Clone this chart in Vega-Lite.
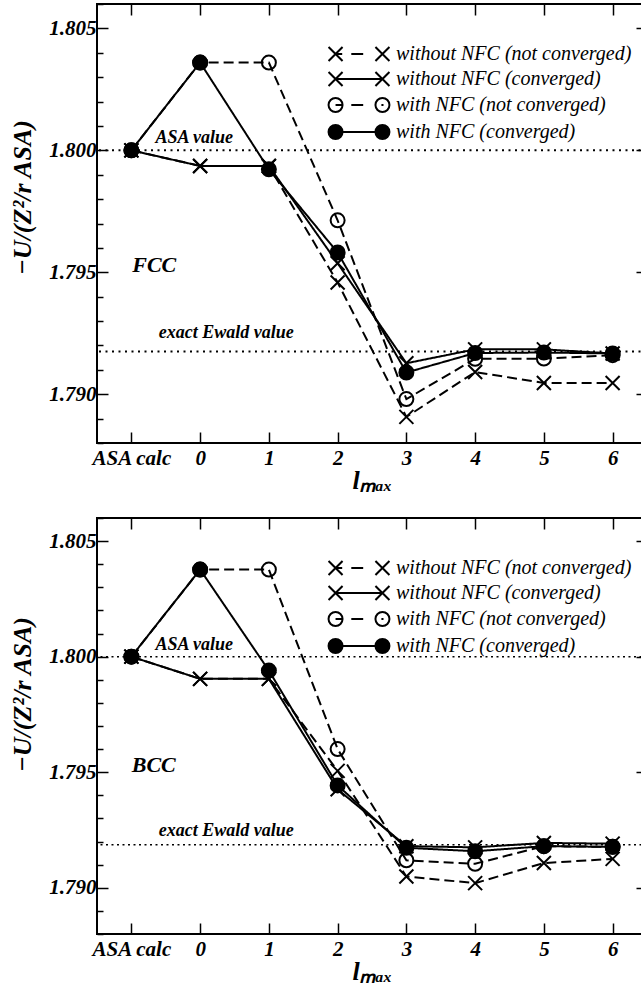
{
  "$schema": "https://vega.github.io/schema/vega-lite/v6.json",
  "padding": {"left": 8, "top": 2, "right": 0, "bottom": 0},
  "background": "white",
  "config": {
    "view": {"stroke": "black", "strokeWidth": 2},
    "font": "Liberation Serif",
    "axis": {
      "domain": false, "grid": false, "ticks": true,
      "tickColor": "black", "tickWidth": 1.5,
      "labelColor": "black", "labelFont": "Liberation Serif", "labelFontSize": 21,
      "labelFontStyle": "italic", "labelFontWeight": "bold",
      "labelOverlap": false, "labelFlush": false,
      "titleColor": "black", "titleFont": "Liberation Serif", "titleFontSize": 26,
      "titleFontStyle": "italic", "titleFontWeight": "bold"
    },
    "legend": {
      "title": null, "orient": "none", "legendX": 252, "legendY": 40, "padding": 0,
      "labelFont": "Liberation Serif", "labelFontSize": 20, "labelFontStyle": "italic", "labelFontWeight": "normal",
      "labelColor": "black", "labelLimit": 400, "labelOffset": 27,
      "symbolSize": 196, "symbolStrokeWidth": 2, "symbolOpacity": 1, "rowPadding": 3
    },
    "text": {"font": "Liberation Serif", "fontStyle": "italic", "fontWeight": "bold", "color": "black"}
  },
  "datasets": {
    "fcc": [
      {"l": -1, "u": 1.8, "s": "without NFC (not converged)"},
      {"l": 0, "u": 1.79936, "s": "without NFC (not converged)"},
      {"l": 1, "u": 1.79936, "s": "without NFC (not converged)"},
      {"l": 2, "u": 1.79458, "s": "without NFC (not converged)"},
      {"l": 3, "u": 1.78907, "s": "without NFC (not converged)"},
      {"l": 4, "u": 1.79091, "s": "without NFC (not converged)"},
      {"l": 5, "u": 1.79046, "s": "without NFC (not converged)"},
      {"l": 6, "u": 1.79046, "s": "without NFC (not converged)"},
      {"l": -1, "u": 1.8, "s": "without NFC (converged)"},
      {"l": 0, "u": 1.79936, "s": "without NFC (converged)"},
      {"l": 1, "u": 1.79936, "s": "without NFC (converged)"},
      {"l": 2, "u": 1.79537, "s": "without NFC (converged)"},
      {"l": 3, "u": 1.79127, "s": "without NFC (converged)"},
      {"l": 4, "u": 1.79184, "s": "without NFC (converged)"},
      {"l": 5, "u": 1.79184, "s": "without NFC (converged)"},
      {"l": 6, "u": 1.79167, "s": "without NFC (converged)"},
      {"l": -1, "u": 1.8, "s": "with NFC (not converged)"},
      {"l": 0, "u": 1.8036, "s": "with NFC (not converged)"},
      {"l": 1, "u": 1.8036, "s": "with NFC (not converged)"},
      {"l": 2, "u": 1.79713, "s": "with NFC (not converged)"},
      {"l": 3, "u": 1.7898, "s": "with NFC (not converged)"},
      {"l": 4, "u": 1.79145, "s": "with NFC (not converged)"},
      {"l": 5, "u": 1.79146, "s": "with NFC (not converged)"},
      {"l": 6, "u": 1.7916, "s": "with NFC (not converged)"},
      {"l": -1, "u": 1.8, "s": "with NFC (converged)"},
      {"l": 0, "u": 1.8036, "s": "with NFC (converged)"},
      {"l": 1, "u": 1.79922, "s": "with NFC (converged)"},
      {"l": 2, "u": 1.79581, "s": "with NFC (converged)"},
      {"l": 3, "u": 1.79089, "s": "with NFC (converged)"},
      {"l": 4, "u": 1.79169, "s": "with NFC (converged)"},
      {"l": 5, "u": 1.79171, "s": "with NFC (converged)"},
      {"l": 6, "u": 1.79167, "s": "with NFC (converged)"}
    ],
    "bcc": [
      {"l": -1, "u": 1.8, "s": "without NFC (not converged)"},
      {"l": 0, "u": 1.79904, "s": "without NFC (not converged)"},
      {"l": 1, "u": 1.79904, "s": "without NFC (not converged)"},
      {"l": 2, "u": 1.79506, "s": "without NFC (not converged)"},
      {"l": 3, "u": 1.79049, "s": "without NFC (not converged)"},
      {"l": 4, "u": 1.7902, "s": "without NFC (not converged)"},
      {"l": 5, "u": 1.79107, "s": "without NFC (not converged)"},
      {"l": 6, "u": 1.79125, "s": "without NFC (not converged)"},
      {"l": -1, "u": 1.8, "s": "without NFC (converged)"},
      {"l": 0, "u": 1.79904, "s": "without NFC (converged)"},
      {"l": 1, "u": 1.79904, "s": "without NFC (converged)"},
      {"l": 2, "u": 1.79426, "s": "without NFC (converged)"},
      {"l": 3, "u": 1.7918, "s": "without NFC (converged)"},
      {"l": 4, "u": 1.79175, "s": "without NFC (converged)"},
      {"l": 5, "u": 1.79194, "s": "without NFC (converged)"},
      {"l": 6, "u": 1.79191, "s": "without NFC (converged)"},
      {"l": -1, "u": 1.8, "s": "with NFC (not converged)"},
      {"l": 0, "u": 1.80377, "s": "with NFC (not converged)"},
      {"l": 1, "u": 1.80377, "s": "with NFC (not converged)"},
      {"l": 2, "u": 1.796, "s": "with NFC (not converged)"},
      {"l": 3, "u": 1.79119, "s": "with NFC (not converged)"},
      {"l": 4, "u": 1.79104, "s": "with NFC (not converged)"},
      {"l": 5, "u": 1.7918, "s": "with NFC (not converged)"},
      {"l": 6, "u": 1.79177, "s": "with NFC (not converged)"},
      {"l": -1, "u": 1.8, "s": "with NFC (converged)"},
      {"l": 0, "u": 1.80377, "s": "with NFC (converged)"},
      {"l": 1, "u": 1.7994, "s": "with NFC (converged)"},
      {"l": 2, "u": 1.79443, "s": "with NFC (converged)"},
      {"l": 3, "u": 1.79173, "s": "with NFC (converged)"},
      {"l": 4, "u": 1.79158, "s": "with NFC (converged)"},
      {"l": 5, "u": 1.7918, "s": "with NFC (converged)"},
      {"l": 6, "u": 1.79177, "s": "with NFC (converged)"}
    ],
    "fcc_refs": [
      {"name": "ASA value", "value": 1.8},
      {"name": "exact Ewald value", "value": 1.79175}
    ],
    "bcc_refs": [
      {"name": "ASA value", "value": 1.8},
      {"name": "exact Ewald value", "value": 1.79186}
    ],
    "fcc_notes": [
      {"x": -0.085, "y": 1.8003, "text": "ASA value"},
      {"x": 0.38, "y": 1.7923, "text": "exact Ewald value"}
    ],
    "bcc_notes": [
      {"x": -0.085, "y": 1.8003, "text": "ASA value"},
      {"x": 0.38, "y": 1.79224, "text": "exact Ewald value"}
    ],
    "fcc_name": [{"x": -0.667, "y": 1.795, "text": "FCC"}],
    "bcc_name": [{"x": -0.674, "y": 1.795, "text": "BCC"}]
  },
  "resolve": {"scale": {"shape": "independent", "fill": "independent", "strokeDash": "independent"}},
  "spacing": 22,
  "vconcat": [
    {
      "width": 550,
      "height": 439,
      "resolve": {"axis": {"x": "independent", "y": "independent"}, "scale": {"shape": "independent", "fill": "independent"}},
      "layer": [
        {
          "data": {"name": "fcc_refs"},
          "mark": {"type": "rule", "color": "black", "strokeWidth": 2, "strokeDash": [2, 4.5]},
          "encoding": {
            "y": {"field": "value", "type": "quantitative",
              "scale": {"domain": [1.788, 1.806], "nice": false, "zero": false},
              "axis": {"orient": "left",
                "values": [1.788, 1.789, 1.79, 1.791, 1.792, 1.793, 1.794, 1.795, 1.796, 1.797, 1.798, 1.799, 1.8, 1.801, 1.802, 1.803, 1.804, 1.805, 1.806],
                "labelExpr": "abs(round(datum.value*1000)) % 5 == 0 ? format(datum.value, '.3f') : ''",
                "labelFontSize": {"condition": {"test": "abs(round(datum.value*1000)) % 5 == 0", "value": 21}, "value": 0},
                "tickSize": {"condition": {"test": "abs(round(datum.value*1000)) % 5 == 0", "value": -11}, "value": -6},
                "labelPadding": 12,
                "title": "−U/(Z²/r ASA)", "titlePadding": 13, "titleY": 193}
            }
          }
        },
        {
          "data": {"name": "fcc"},
          "mark": {"type": "line", "color": "black", "strokeWidth": 2},
          "encoding": {
            "x": {"field": "l", "type": "quantitative",
              "scale": {"domain": [-1.5, 6.5], "nice": false, "zero": false},
              "axis": {"orient": "bottom", "values": [-1, 0, 1, 2, 3, 4, 5, 6],
                "labelExpr": "datum.value == -1 ? 'ASA calc' : format(datum.value, 'd')",
                "tickSize": -11, "labelPadding": 15,
                "title": "lₘₐₓ", "titleFontSize": 26, "titlePadding": -1}},
            "y": {"field": "u", "type": "quantitative",
              "scale": {"domain": [1.788, 1.806], "nice": false, "zero": false},
              "axis": {"orient": "right",
                "values": [1.788, 1.789, 1.79, 1.791, 1.792, 1.793, 1.794, 1.795, 1.796, 1.797, 1.798, 1.799, 1.8, 1.801, 1.802, 1.803, 1.804, 1.805, 1.806],
                "labels": false, "title": null,
                "tickSize": {"condition": {"test": "abs(round(datum.value*1000)) % 5 == 0", "value": -11}, "value": -6}}},
            "strokeDash": {"field": "s", "type": "nominal", "legend": null,
              "scale": {"domain": ["with NFC (converged)", "with NFC (not converged)", "without NFC (converged)", "without NFC (not converged)"],
                "range": [[1, 0], [10, 5], [1, 0], [10, 5]]}}
          }
        },
        {
          "data": {"name": "fcc"},
          "mark": {"type": "point", "stroke": "black", "strokeWidth": 2, "size": 196, "opacity": 1},
          "encoding": {
            "x": {"field": "l", "type": "quantitative",
              "scale": {"domain": [-1.5, 6.5], "nice": false, "zero": false},
              "axis": {"orient": "top", "values": [-1, 0, 1, 2, 3, 4, 5, 6], "labels": false, "title": null, "tickSize": -11}},
            "y": {"field": "u", "type": "quantitative", "axis": null,
              "scale": {"domain": [1.788, 1.806], "nice": false, "zero": false}},
            "shape": {"field": "s", "type": "nominal", "legend": null,
              "scale": {"domain": ["with NFC (converged)", "with NFC (not converged)", "without NFC (converged)", "without NFC (not converged)"],
                "range": ["circle", "circle", "M-1,-1L1,1M-1,1L1,-1", "M-1,-1L1,1M-1,1L1,-1"]}},
            "fill": {"field": "s", "type": "nominal", "legend": null,
              "scale": {"domain": ["with NFC (converged)", "with NFC (not converged)", "without NFC (converged)", "without NFC (not converged)"],
                "range": ["black", "transparent", "transparent", "transparent"]}}
          }
        },
        {
          "data": {"name": "fcc"},
          "mark": {"type": "point", "stroke": "black", "strokeWidth": 2, "size": 196, "opacity": 0},
          "encoding": {
            "x": {"field": "l", "type": "quantitative", "axis": null,
              "scale": {"domain": [-1.5, 6.5], "nice": false, "zero": false}},
            "y": {"field": "u", "type": "quantitative", "axis": null,
              "scale": {"domain": [1.788, 1.806], "nice": false, "zero": false}},
            "shape": {"field": "s", "type": "nominal",
              "scale": {"domain": ["without NFC (not converged)", "without NFC (converged)", "with NFC (not converged)", "with NFC (converged)"],
                "range": [
                  "M-4.35,-1L-2.35,1M-4.35,1L-2.35,-1M-3.35,0L-2.4,0M-1.1,0L0.6,0M2.35,-1L4.35,1M2.35,1L4.35,-1",
                  "M-4.35,-1L-2.35,1M-4.35,1L-2.35,-1M-3.35,0L3.35,0M2.35,-1L4.35,1M2.35,1L4.35,-1",
                  "M-2.35,0A1,1,0,1,1,-4.35,0A1,1,0,1,1,-2.35,0M-3.35,0L-2.35,0M-1.1,0L0.6,0M4.35,0A1,1,0,1,1,2.35,0A1,1,0,1,1,4.35,0M3.2,0L3.5,0",
                  "M-2.35,0A1,1,0,1,1,-4.35,0A1,1,0,1,1,-2.35,0M-2.35,0L2.35,0M4.35,0A1,1,0,1,1,2.35,0A1,1,0,1,1,4.35,0"
                ]},
              "legend": {"title": null, "orient": "none", "legendX": 252, "legendY": 40, "symbolOpacity": 1}},
            "fill": {"field": "s", "type": "nominal",
              "scale": {"domain": ["without NFC (not converged)", "without NFC (converged)", "with NFC (not converged)", "with NFC (converged)"],
                "range": ["transparent", "transparent", "transparent", "black"]}}
          }
        },
        {
          "data": {"name": "fcc_notes"},
          "mark": {"type": "text", "fontSize": 18, "align": "center", "baseline": "alphabetic"},
          "encoding": {
            "x": {"field": "x", "type": "quantitative", "axis": null, "scale": {"domain": [-1.5, 6.5], "nice": false, "zero": false}},
            "y": {"field": "y", "type": "quantitative", "axis": null, "scale": {"domain": [1.788, 1.806], "nice": false, "zero": false}},
            "text": {"field": "text"}
          }
        },
        {
          "data": {"name": "fcc_name"},
          "mark": {"type": "text", "fontSize": 22, "align": "center", "baseline": "alphabetic"},
          "encoding": {
            "x": {"field": "x", "type": "quantitative", "axis": null, "scale": {"domain": [-1.5, 6.5], "nice": false, "zero": false}},
            "y": {"field": "y", "type": "quantitative", "axis": null, "scale": {"domain": [1.788, 1.806], "nice": false, "zero": false}},
            "text": {"field": "text"}
          }
        }
      ]
    },
    {
      "width": 550,
      "height": 416,
      "resolve": {"axis": {"x": "independent", "y": "independent"}, "scale": {"shape": "independent", "fill": "independent"}},
      "layer": [
        {
          "data": {"name": "bcc_refs"},
          "mark": {"type": "rule", "color": "black", "strokeWidth": 1.5, "strokeDash": [2, 3.5]},
          "encoding": {
            "y": {"field": "value", "type": "quantitative",
              "scale": {"domain": [1.788, 1.806], "nice": false, "zero": false},
              "axis": {"orient": "left",
                "values": [1.788, 1.789, 1.79, 1.791, 1.792, 1.793, 1.794, 1.795, 1.796, 1.797, 1.798, 1.799, 1.8, 1.801, 1.802, 1.803, 1.804, 1.805, 1.806],
                "labelExpr": "abs(round(datum.value*1000)) % 5 == 0 ? format(datum.value, '.3f') : ''",
                "labelFontSize": {"condition": {"test": "abs(round(datum.value*1000)) % 5 == 0", "value": 21}, "value": 0},
                "tickSize": {"condition": {"test": "abs(round(datum.value*1000)) % 5 == 0", "value": -11}, "value": -6},
                "labelPadding": 12,
                "title": "−U/(Z²/r ASA)", "titlePadding": 13, "titleY": 176}
            }
          }
        },
        {
          "data": {"name": "bcc"},
          "mark": {"type": "line", "color": "black", "strokeWidth": 2},
          "encoding": {
            "x": {"field": "l", "type": "quantitative",
              "scale": {"domain": [-1.5, 6.5], "nice": false, "zero": false},
              "axis": {"orient": "bottom", "values": [-1, 0, 1, 2, 3, 4, 5, 6],
                "labelExpr": "datum.value == -1 ? 'ASA calc' : format(datum.value, 'd')",
                "tickSize": -11, "labelPadding": 15,
                "title": "lₘₐₓ", "titleFontSize": 26, "titlePadding": -1}},
            "y": {"field": "u", "type": "quantitative",
              "scale": {"domain": [1.788, 1.806], "nice": false, "zero": false},
              "axis": {"orient": "right",
                "values": [1.788, 1.789, 1.79, 1.791, 1.792, 1.793, 1.794, 1.795, 1.796, 1.797, 1.798, 1.799, 1.8, 1.801, 1.802, 1.803, 1.804, 1.805, 1.806],
                "labels": false, "title": null,
                "tickSize": {"condition": {"test": "abs(round(datum.value*1000)) % 5 == 0", "value": -11}, "value": -6}}},
            "strokeDash": {"field": "s", "type": "nominal", "legend": null,
              "scale": {"domain": ["with NFC (converged)", "with NFC (not converged)", "without NFC (converged)", "without NFC (not converged)"],
                "range": [[1, 0], [10, 5], [1, 0], [10, 5]]}}
          }
        },
        {
          "data": {"name": "bcc"},
          "mark": {"type": "point", "stroke": "black", "strokeWidth": 2, "size": 196, "opacity": 1},
          "encoding": {
            "x": {"field": "l", "type": "quantitative",
              "scale": {"domain": [-1.5, 6.5], "nice": false, "zero": false},
              "axis": {"orient": "top", "values": [-1, 0, 1, 2, 3, 4, 5, 6], "labels": false, "title": null, "tickSize": -11}},
            "y": {"field": "u", "type": "quantitative", "axis": null,
              "scale": {"domain": [1.788, 1.806], "nice": false, "zero": false}},
            "shape": {"field": "s", "type": "nominal", "legend": null,
              "scale": {"domain": ["with NFC (converged)", "with NFC (not converged)", "without NFC (converged)", "without NFC (not converged)"],
                "range": ["circle", "circle", "M-1,-1L1,1M-1,1L1,-1", "M-1,-1L1,1M-1,1L1,-1"]}},
            "fill": {"field": "s", "type": "nominal", "legend": null,
              "scale": {"domain": ["with NFC (converged)", "with NFC (not converged)", "without NFC (converged)", "without NFC (not converged)"],
                "range": ["black", "transparent", "transparent", "transparent"]}}
          }
        },
        {
          "data": {"name": "bcc"},
          "mark": {"type": "point", "stroke": "black", "strokeWidth": 2, "size": 196, "opacity": 0},
          "encoding": {
            "x": {"field": "l", "type": "quantitative", "axis": null,
              "scale": {"domain": [-1.5, 6.5], "nice": false, "zero": false}},
            "y": {"field": "u", "type": "quantitative", "axis": null,
              "scale": {"domain": [1.788, 1.806], "nice": false, "zero": false}},
            "shape": {"field": "s", "type": "nominal",
              "scale": {"domain": ["without NFC (not converged)", "without NFC (converged)", "with NFC (not converged)", "with NFC (converged)"],
                "range": [
                  "M-4.35,-1L-2.35,1M-4.35,1L-2.35,-1M-3.35,0L-2.4,0M-1.1,0L0.6,0M2.35,-1L4.35,1M2.35,1L4.35,-1",
                  "M-4.35,-1L-2.35,1M-4.35,1L-2.35,-1M-3.35,0L3.35,0M2.35,-1L4.35,1M2.35,1L4.35,-1",
                  "M-2.35,0A1,1,0,1,1,-4.35,0A1,1,0,1,1,-2.35,0M-3.35,0L-2.35,0M-1.1,0L0.6,0M4.35,0A1,1,0,1,1,2.35,0A1,1,0,1,1,4.35,0M3.2,0L3.5,0",
                  "M-2.35,0A1,1,0,1,1,-4.35,0A1,1,0,1,1,-2.35,0M-2.35,0L2.35,0M4.35,0A1,1,0,1,1,2.35,0A1,1,0,1,1,4.35,0"
                ]},
              "legend": {"title": null, "orient": "none", "legendX": 252, "legendY": 40, "symbolOpacity": 1}},
            "fill": {"field": "s", "type": "nominal",
              "scale": {"domain": ["without NFC (not converged)", "without NFC (converged)", "with NFC (not converged)", "with NFC (converged)"],
                "range": ["transparent", "transparent", "transparent", "black"]}}
          }
        },
        {
          "data": {"name": "bcc_notes"},
          "mark": {"type": "text", "fontSize": 18, "align": "center", "baseline": "alphabetic"},
          "encoding": {
            "x": {"field": "x", "type": "quantitative", "axis": null, "scale": {"domain": [-1.5, 6.5], "nice": false, "zero": false}},
            "y": {"field": "y", "type": "quantitative", "axis": null, "scale": {"domain": [1.788, 1.806], "nice": false, "zero": false}},
            "text": {"field": "text"}
          }
        },
        {
          "data": {"name": "bcc_name"},
          "mark": {"type": "text", "fontSize": 22, "align": "center", "baseline": "alphabetic"},
          "encoding": {
            "x": {"field": "x", "type": "quantitative", "axis": null, "scale": {"domain": [-1.5, 6.5], "nice": false, "zero": false}},
            "y": {"field": "y", "type": "quantitative", "axis": null, "scale": {"domain": [1.788, 1.806], "nice": false, "zero": false}},
            "text": {"field": "text"}
          }
        }
      ]
    }
  ]
}
